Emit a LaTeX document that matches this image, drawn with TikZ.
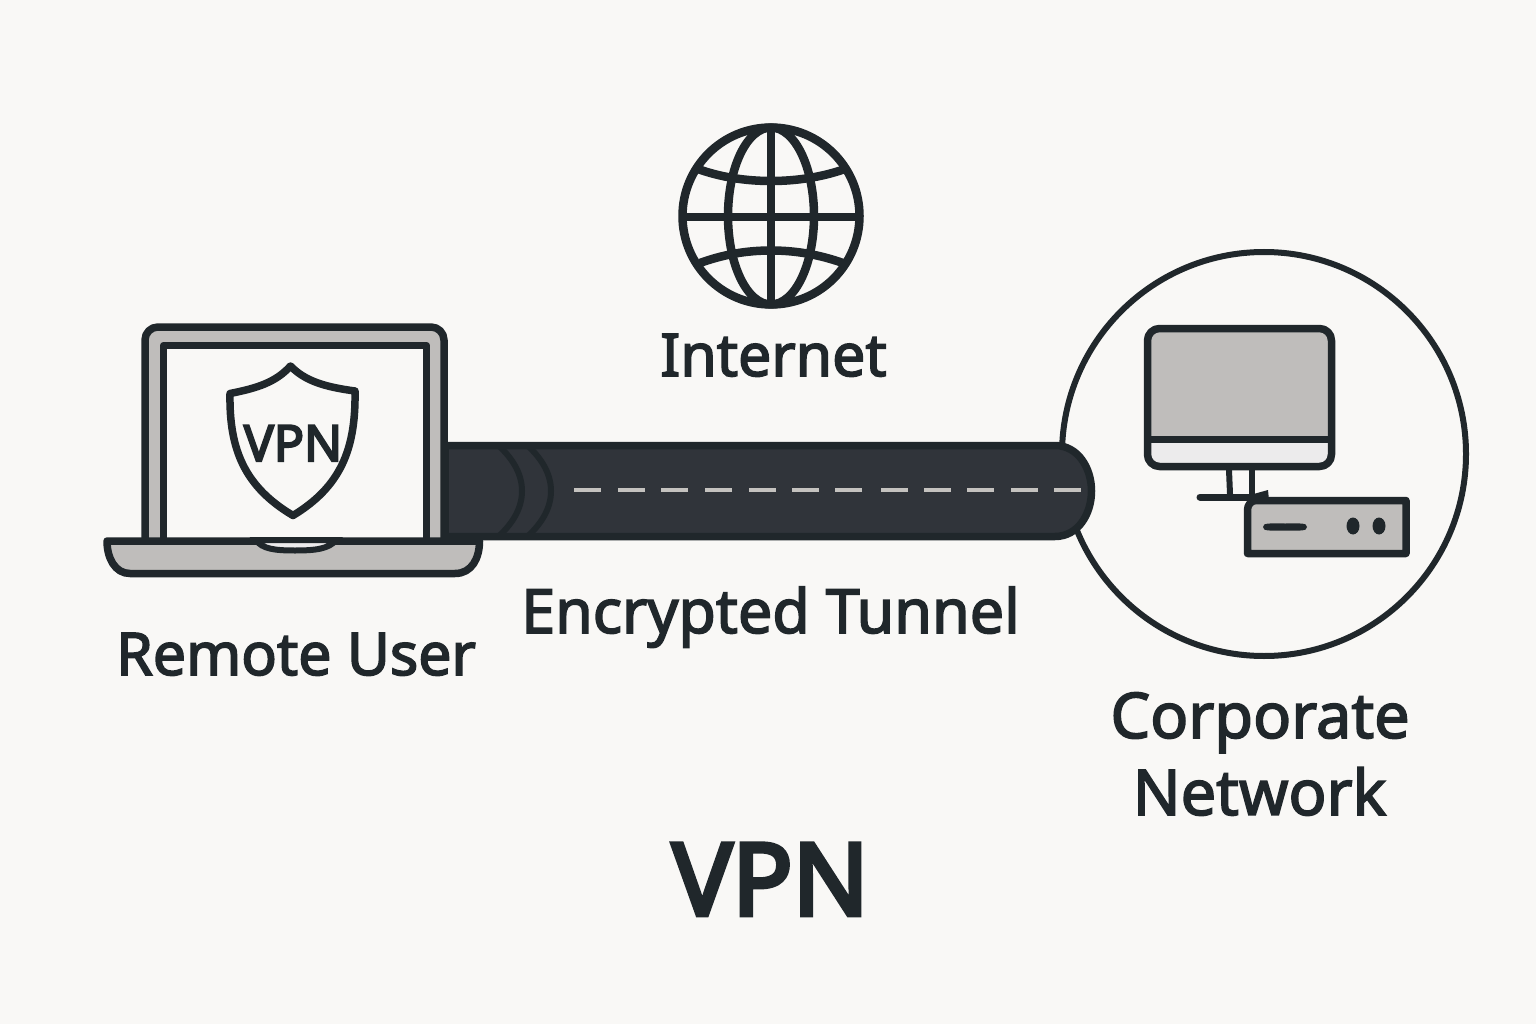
\documentclass[tikz,border=0pt]{standalone}
\usepackage{fontspec}
\setmainfont{Noto Sans}
\definecolor{bgc}{HTML}{F9F8F6}
\definecolor{ink}{HTML}{20272B}
\definecolor{tube}{HTML}{30343A}
\definecolor{midgray}{HTML}{BFBDBB}
\definecolor{palegray}{HTML}{ECEBEC}
\definecolor{dashc}{HTML}{C4C2BF}
\newcommand{\heavy}[2]{\special{pdf:literal direct 2 Tr #1 w 0.125 0.153 0.169 RG}#2\special{pdf:literal direct 0 Tr}}
\tikzset{
 lbl/.style={inner sep=0pt,anchor=base,text=ink},
 outl/.style={draw=ink,line width=7.5pt,line join=round},
 globeline/.style={draw=ink,line width=8.5pt,line join=round},
 thin line/.style={draw=ink,line width=6pt},
}
\begin{document}
\begin{tikzpicture}[x=1pt,y=-1pt]
\useasboundingbox (0,0) rectangle (1536,1024);
\fill[bgc] (0,0) rectangle (1536,1024);
% corporate circle
\draw[thin line] (1264,454) circle (202);
% tunnel
\draw[outl,fill=tube] (445,445.5) -- (1055,445.5) .. controls (1078,445.5) and (1091.5,468) .. (1091.5,491) .. controls (1091.5,514) and (1078,536.5) .. (1055,536.5) -- (445,536.5) -- cycle;
\draw[ink,line width=6pt] (499,446) .. controls (514,460) and (522,475) .. (522,491) .. controls (522,507) and (514,522) .. (499,536);
\draw[ink,line width=6pt] (528,446) .. controls (543,460) and (551,475) .. (551,491) .. controls (551,507) and (543,522) .. (528,536);
\foreach \a in {574,618,661,705,749,792,835,881,924,967,1011,1054}
  \draw[dashc,line width=4pt] (\a,490) -- ++(27,0);
% laptop lid
\draw[outl,fill=midgray,rounded corners=13pt] (145,540) -- (145,327) -- (444,327) -- (444,540);
\draw[outl,fill=bgc] (163.5,540) -- (163.5,345.5) -- (426.5,345.5) -- (426.5,540);
% laptop base
\draw[outl,fill=midgray] (107,541) -- (479.5,541) .. controls (479.5,558) and (472,573.5) .. (455,573.5) -- (130,573.5) .. controls (115,573.5) and (107,558) .. (107,541) -- cycle;
\draw[ink,line width=6pt,fill=palegray] (256,540) .. controls (262,549) and (275,550.5) .. (295,550.5) .. controls (315,550.5) and (329,549) .. (336,540) -- cycle;
% shield
\draw[outl,fill=bgc] (290.5,366) .. controls (276,382) and (258,388) .. (230,393.5) .. controls (229,450) and (245,487) .. (293,515.5) .. controls (340,487) and (356,450) .. (355,391) .. controls (325,387) and (305,381) .. (290.5,366) -- cycle;
\node[lbl] (shieldtext) at (293,461) {\fontsize{50}{50}\selectfont\heavy{2}{VPN}};
% globe
\draw[globeline] (771,216) circle (88.5);
\draw[globeline] (771,216) ellipse (43 and 88.5);
\draw[globeline] (771,127) -- (771,305);
\draw[globeline] (682,217) -- (860,217);
\draw[globeline] (698,169) .. controls (720,177) and (745,181) .. (771,181) .. controls (797,181) and (822,177) .. (845,169);
\draw[globeline] (700,263) .. controls (722,255) and (745,250.5) .. (771,250.5) .. controls (797,250.5) and (820,255) .. (843,263);
% monitor
\fill[midgray,rounded corners=12pt] (1147.5,466.5) rectangle (1331.5,328.5);
\fill[palegray,rounded corners=12pt] (1147.5,439) -- (1147.5,466.5) -- (1331.5,466.5) -- (1331.5,439) -- cycle;
\fill[palegray] (1147.5,439) rectangle (1331.5,450);
\draw[outl,rounded corners=12pt] (1147.5,328.5) rectangle (1331.5,466.5);
\draw[ink,line width=7pt] (1147,439) -- (1332,439);
\draw[thin line] (1229,470) -- (1230,494);
\draw[thin line] (1252,470) -- (1252,494);
\draw[ink,line width=7pt,line cap=round] (1200,497) -- (1262,497);
\fill[ink] (1250,495) -- (1268,490) -- (1269,500) -- (1250,502) -- cycle;
% box
\draw[outl,fill=midgray] (1256,500.5) -- (1406,500.5) -- (1406,553.5) -- (1247.5,553.5) -- (1247.5,510) .. controls (1247.5,505) and (1251,500.5) .. (1256,500.5) -- cycle;
\fill[ink] (1263,527) .. controls (1263,522.5) and (1270,523.5) .. (1285,523.5) .. controls (1300,523.5) and (1307,522.5) .. (1307,527) .. controls (1307,531.5) and (1300,530.5) .. (1285,530.5) .. controls (1270,530.5) and (1263,531.5) .. (1263,527) -- cycle;
\fill[ink] (1353,526) ellipse (6.5 and 8.5);
\fill[ink] (1379,526) ellipse (6.5 and 8.5);
% labels
\node[lbl] (internet) at (773.5,376) {\fontsize{59}{59}\selectfont\heavy{1.6}{Internet}};
\node[lbl] (remote) at (296,675) {\fontsize{59}{59}\selectfont\heavy{1.6}{Remote User}};
\node[lbl] (tunnel) at (770.5,633) {\fontsize{61}{61}\selectfont\heavy{1.6}{Encrypted Tunnel}};
\node[lbl] (corp) at (1260,738) {\fontsize{63}{63}\selectfont\heavy{1.6}{Corporate}};
\node[lbl] (net) at (1259.5,815) {\fontsize{63}{63}\selectfont\heavy{1.6}{Network}};
\node[lbl] (title) at (770.5,915) {\fontsize{100}{100}\selectfont\heavy{4.5}{VPN}};
\end{tikzpicture}
\end{document}
